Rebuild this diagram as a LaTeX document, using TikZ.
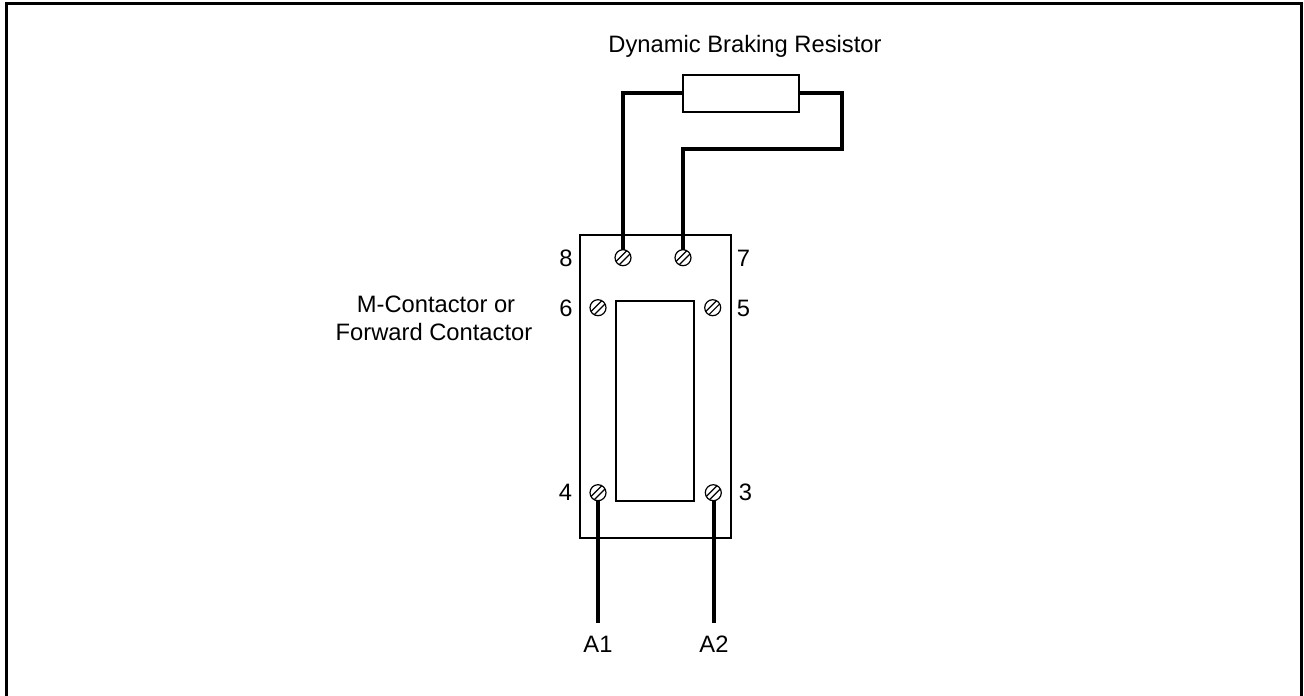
\documentclass[tikz,border=0pt]{standalone}
\usepackage{fontspec}
\setmainfont{Liberation Sans}
\tikzset{
  thinbox/.style={draw, line width=1.6pt, inner sep=0pt},
  wire/.style={line width=3pt, line join=miter},
  screw/.style={circle, draw, line width=0.9pt, fill=white, minimum size=12pt, inner sep=0pt,
    path picture={
      \draw[line width=0.9pt] ([shift={(-9.2pt,-6.8pt)}]path picture bounding box.center) -- ([shift={(6.8pt,9.2pt)}]path picture bounding box.center);
      \draw[line width=0.9pt] ([shift={(-6.8pt,-9.2pt)}]path picture bounding box.center) -- ([shift={(9.2pt,6.8pt)}]path picture bounding box.center);
    }},
  lbl/.style={font=\fontsize{17.8pt}{20pt}\selectfont, inner sep=0pt, anchor=base}
}
\begin{document}
\begin{tikzpicture}[x=0.75pt,y=-0.75pt]
  \useasboundingbox (0,0) rectangle (1304,696);
  \draw[line width=2.25pt] (6.5,696) -- (6.5,3.5) -- (1301,3.5) -- (1301,696);
  % resistor
  \node[lbl] (title) at (745,52.7) {Dynamic Braking Resistor};
  \node[thinbox, minimum width=87pt, minimum height=27.5pt] (res) at (741,93.3) {};
  % contactor
  \node[thinbox, minimum width=113pt, minimum height=227pt] (cont) at (655.5,386.3) {};
  \node[thinbox, minimum width=58.5pt, minimum height=150pt] (coil) at (655,400.8) {};
  \coordinate (C1) at (841.5,93.3);
  \coordinate (C2) at (841.5,149);
  \coordinate (C3) at (683,149);
  \coordinate (E4) at (597.5,623);
  \coordinate (E3) at (713.5,623);
  \draw[wire] (623,258) |- (res.west);
  \draw[wire] (res.east) -- (C1) -- (C2) -- (C3) -- (683,258);
  \draw[wire] (597.5,493) -- (E4);
  \draw[wire] (713.5,493) -- (E3);
  % screws
  \node[screw] (s8) at (623,257.7) {};
  \node[screw] (s7) at (683,257.7) {};
  \node[screw] (s6) at (598,307.7) {};
  \node[screw] (s5) at (712.7,307.7) {};
  \node[screw] (s4) at (598,492.7) {};
  \node[screw] (s3) at (713.3,492.7) {};
  \node[lbl] (n8) at (566,266) {8};
  \node[lbl] (n7) at (743.5,266) {7};
  \node[lbl] (n6) at (566,316) {6};
  \node[lbl] (n5) at (743.5,316) {5};
  \node[lbl] (n4) at (565.5,500) {4};
  \node[lbl] (n3) at (745.5,500) {3};
  \node[lbl] (name1) at (436,312.7) {M-Contactor or};
  \node[lbl] (name2) at (434,340) {Forward Contactor};
  \node[lbl] (a1) at (598,652) {A1};
  \node[lbl] (a2) at (714,652) {A2};
\end{tikzpicture}
\end{document}
